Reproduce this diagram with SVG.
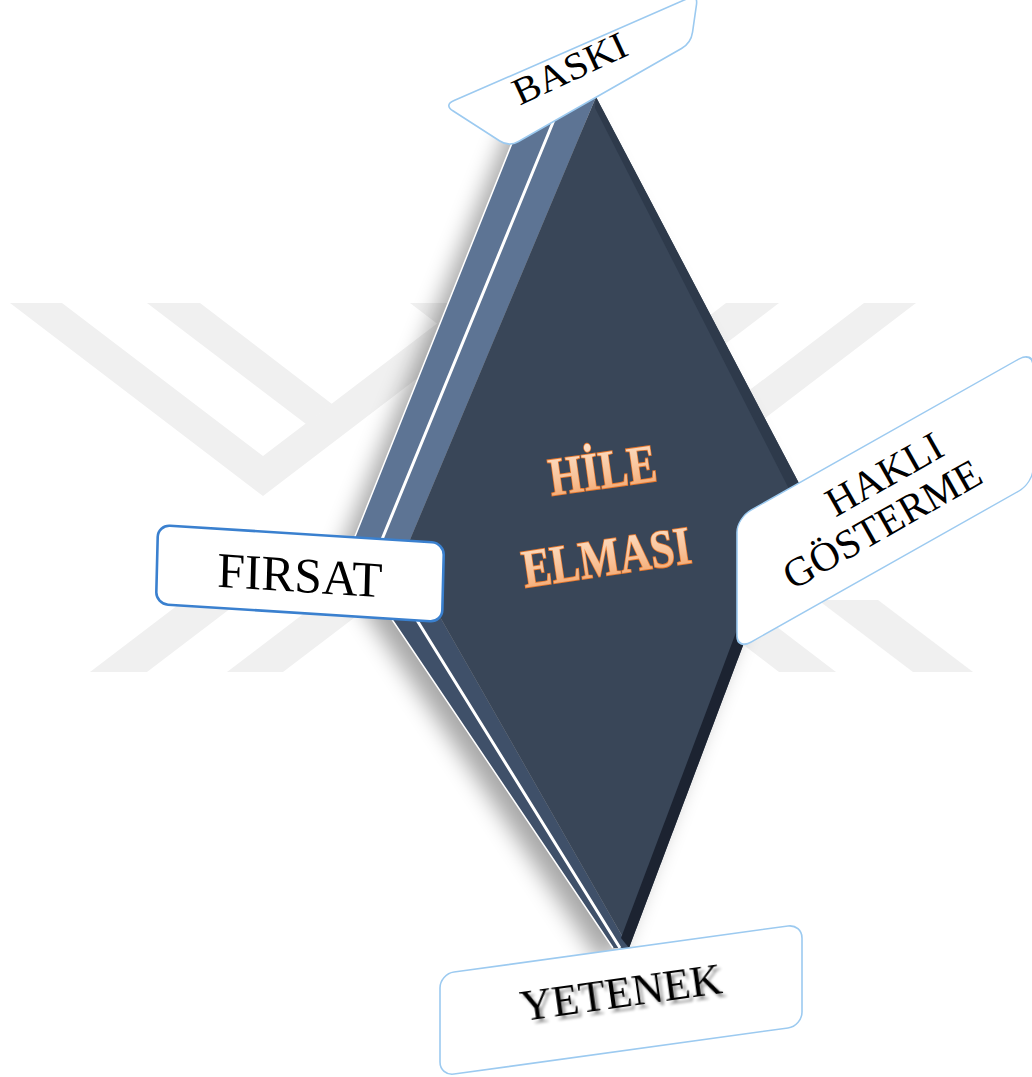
<svg xmlns="http://www.w3.org/2000/svg" width="1032" height="1077" viewBox="0 0 1032 1077">
  <defs>
    <style>
      .wm { fill: #f0f0f0; }
      .box { fill: #ffffff; stroke: #9ccaf0; stroke-width: 1.6; }
      .box-strong { fill: #ffffff; stroke: #3a80cf; stroke-width: 2.6; }
      .label { font-family: "Liberation Serif", "Times New Roman", serif; fill: #000000; }
      .title { font-family: "Liberation Serif", "Times New Roman", serif; font-weight: bold; font-size: 54px;
               fill: url(#titleFill); stroke: #e9782c; stroke-width: 1.8; paint-order: stroke; }
      .edge-line { fill: none; stroke: #ffffff; stroke-linejoin: round; }
    </style>
    <linearGradient id="titleFill" x1="0" y1="0" x2="0" y2="1">
      <stop offset="0" stop-color="#fde3cc"/>
      <stop offset="0.6" stop-color="#f8c095"/>
      <stop offset="1" stop-color="#f2a064"/>
    </linearGradient>
    <filter id="softShadow" x="-30%" y="-10%" width="160%" height="120%">
      <feGaussianBlur stdDeviation="11"/>
    </filter>
    <filter id="textShadow" x="-10%" y="-30%" width="120%" height="160%">
      <feGaussianBlur in="SourceAlpha" stdDeviation="1.6" result="b"/>
      <feOffset in="b" dx="3" dy="4" result="o"/>
      <feComponentTransfer in="o" result="s"><feFuncA type="linear" slope="0.4"/></feComponentTransfer>
      <feMerge><feMergeNode in="s"/><feMergeNode in="SourceGraphic"/></feMerge>
    </filter>
    <clipPath id="wmClip"><rect x="0" y="303" width="1032" height="369"/></clipPath>
    <!-- upper half of the background emblem; the right side is its mirror image -->
    <g id="wmUpper">
      <polygon points="10,303 263,496 516,303 464,303 263,456 62,303"/>
      <polygon points="147,303 200,303 332,404 306,424"/>
      <polygon points="90,672 147,672 294,560 237,560"/>
      <polygon points="227,672 283,672 417,570 361,570"/>
    </g>
  </defs>

  <rect width="1032" height="1077" fill="#ffffff"/>

  <!-- background emblem -->
  <g id="watermark" class="wm" clip-path="url(#wmClip)">
    <use href="#wmUpper"/>
    <use href="#wmUpper" transform="translate(926,0) scale(-1,1)"/>
    <polygon points="913,672 973,672 878,600 818,600"/>
  </g>

  <!-- central diamond -->
  <g id="diamond">
    <polygon points="530,98 596,97 802,489 629,948 613,948 348,554" fill="#000000" opacity="0.34"
             transform="translate(-14,12)" filter="url(#softShadow)"/>
    <!-- left side faces -->
    <polygon points="530,98 596,97 404,554 348,554" fill="#5d7494"/>
    <polygon points="348,554 404,554 629,948 613,948" fill="#3f5069"/>
    <!-- front face -->
    <polygon points="596,97 802,489 629,948 404,554" fill="#394658"/>
    <!-- bevels along the right edges -->
    <polygon points="596,97 802,489 789,489 595,108" fill="#2e3a4b"/>
    <polygon points="802,489 629,948 621,938 790,489" fill="#1c2331"/>
    <!-- highlight lines -->
    <polyline class="edge-line" points="563,98 376,554 620,948" stroke-width="3"/>
    <polyline class="edge-line" points="530,98 348,554 613,948" stroke-width="1.5"/>
    <text class="title" x="605" y="488" text-anchor="middle" textLength="108" lengthAdjust="spacingAndGlyphs"
          transform="rotate(-8 605 488)">HİLE</text>
    <text class="title" x="609" y="575" text-anchor="middle" textLength="170" lengthAdjust="spacingAndGlyphs"
          transform="rotate(-8.5 609 575)">ELMASI</text>
  </g>

  <!-- labels around the diamond -->
  <g id="node-baski">
    <path class="box" d="M454.1,100.6 L687.9,-1.6 Q698,-6 696.45,4.9 L692.55,32.1 Q691,43 681.5,48.5 L518.5,141.5 Q509,147 499.8,141 L453.2,111 Q444,105 454.1,100.6 Z"/>
    <text class="label" x="575" y="80" font-size="38" text-anchor="middle" textLength="122" lengthAdjust="spacingAndGlyphs"
          transform="rotate(-25 575 80)">BASKI</text>
  </g>

  <g id="node-firsat">
    <g transform="matrix(1,0.063,-0.025,1,158,525)">
      <rect class="box-strong" x="0" y="0" width="286" height="79" rx="12"/>
      <text class="label" x="143" y="58" font-size="50" text-anchor="middle" textLength="165" lengthAdjust="spacingAndGlyphs">FIRSAT</text>
    </g>
  </g>

  <g id="node-hakli-gosterme">
    <rect class="box" x="0" y="0" width="296" height="132" rx="14" transform="matrix(1,-0.564,0,1,737,518)"/>
    <text class="label" font-size="41" text-anchor="middle" transform="translate(891,486) rotate(-29.5)">HAKLI</text>
    <text class="label" font-size="41" text-anchor="middle" transform="translate(889,536) rotate(-29.5)">GÖSTERME</text>
  </g>

  <g id="node-yetenek">
    <rect class="box" x="0" y="0" width="362" height="102" rx="14" transform="matrix(1,-0.138,0,1,440,974)"/>
    <text class="label" x="623" y="1007" font-size="44" text-anchor="middle" filter="url(#textShadow)"
          transform="rotate(-8 623 1007)">YETENEK</text>
  </g>
</svg>
